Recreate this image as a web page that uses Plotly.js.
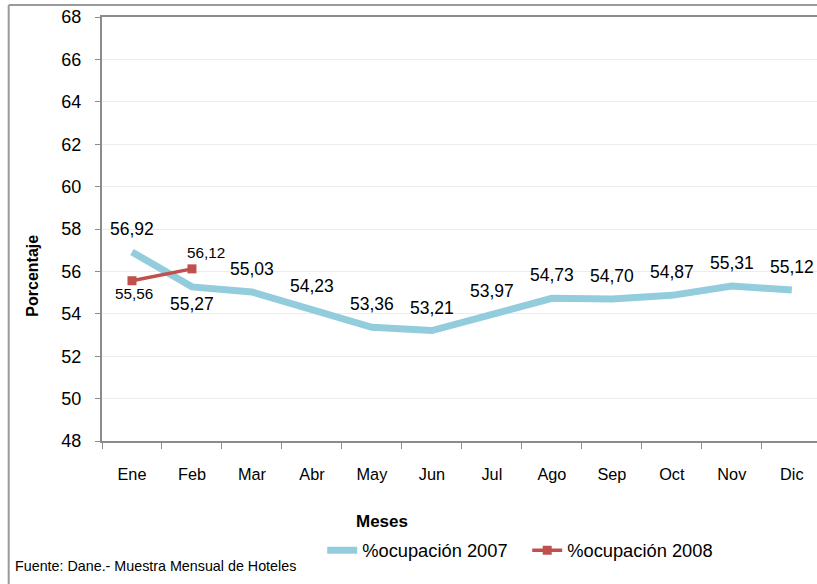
<!DOCTYPE html>
<html>
<head>
<meta charset="utf-8">
<script src="https://cdn.plot.ly/plotly-3.0.1.min.js"></script>
<style>
html,body{margin:0;padding:0;overflow:hidden;background:#fff;}
#chart{width:817px;height:584px;}
</style>
</head>
<body>
<div id="chart"></div>
<script>
const months = ["Ene","Feb","Mar","Abr","May","Jun","Jul","Ago","Sep","Oct","Nov","Dic"];
const occ2007 = [56.92,55.27,55.03,54.23,53.36,53.21,53.97,54.73,54.70,54.87,55.31,55.12];
const months2008 = ["Ene","Feb"];
const occ2008 = [55.56,56.12];
const yTicks = [48,50,52,54,56,58,60,62,64,66,68];

const fmt = v => v.toFixed(2).replace('.', ',');
const font = "Liberation Sans, Arial, sans-serif";

const traces = [
  {
    x: months, y: occ2007, type: 'scatter', mode: 'lines',
    name: '%ocupación 2007',
    line: {color: '#93CDDD', width: 7},
    hoverinfo: 'skip'
  },
  {
    x: months2008, y: occ2008, type: 'scatter', mode: 'lines+markers',
    name: '%ocupación 2008',
    line: {color: '#C0504D', width: 3.5},
    marker: {symbol: 'square', size: 9, color: '#C0504D'},
    hoverinfo: 'skip'
  }
];

const annotations = [];
occ2007.forEach((v, i) => {
  const below = (i === 1);
  annotations.push({
    x: months[i], y: v, xref: 'x', yref: 'y', text: fmt(v), showarrow: false,
    xanchor: 'center', yanchor: 'middle',
    font: {family: font, size: 17.5, color: '#000'},
    yshift: below ? -17 : 23
  });
});
annotations.push({
  x: months2008[0], y: occ2008[0], xref: 'x', yref: 'y', text: fmt(occ2008[0]), showarrow: false,
  xanchor: 'center', yanchor: 'middle',
  font: {family: font, size: 15.3, color: '#000'}, xshift: 2, yshift: -13
});
annotations.push({
  x: months2008[1], y: occ2008[1], xref: 'x', yref: 'y', text: fmt(occ2008[1]), showarrow: false,
  xanchor: 'center', yanchor: 'middle',
  font: {family: font, size: 15.3, color: '#000'}, xshift: 14, yshift: 16
});
annotations.push({
  xref: 'paper', yref: 'paper', x: -0.0985, y: 0.389, text: '<b>Porcentaje</b>', showarrow: false,
  xanchor: 'center', yanchor: 'middle',
  textangle: -90, font: {family: font, size: 16, color: '#000'}
});
annotations.push({
  xref: 'paper', yref: 'paper', x: 0.391, y: -0.191, text: '<b>Meses</b>', showarrow: false,
  xanchor: 'center', yanchor: 'middle',
  font: {family: font, size: 17, color: '#000'}
});
annotations.push({
  xref: 'paper', yref: 'paper', x: -0.125, y: -0.295, xanchor: 'left', yanchor: 'middle',
  text: 'Fuente: Dane.- Muestra Mensual de Hoteles', showarrow: false,
  font: {family: font, size: 14.3, color: '#000'}
});

const layout = {
  width: 817, height: 584,
  margin: {l: 102, r: 0, t: 17, b: 143, pad: 0},
  paper_bgcolor: '#fff', plot_bgcolor: '#fff',
  showlegend: true,
  legend: {
    orientation: 'h', x: 0.308, y: -0.258, xanchor: 'left', yanchor: 'middle',
    font: {family: font, size: 18.3, color: '#000'}, bgcolor: 'rgba(0,0,0,0)',
    itemwidth: 30, tracegroupgap: 0, entrywidth: 160, entrywidthmode: 'pixels'
  },
  xaxis: {
    type: 'category', categoryorder: 'array', categoryarray: months,
    range: [-0.5, 11.42], showgrid: false, zeroline: false,
    showline: true, linecolor: '#8c8c8c', linewidth: 2, mirror: true,
    ticks: 'outside', tickson: 'boundaries', ticklen: 6, tickcolor: '#8c8c8c', tickwidth: 1,
    ticklabelstandoff: 17,
    tickfont: {family: font, size: 16.3, color: '#000'}, fixedrange: true
  },
  yaxis: {
    range: [48, 68], tickvals: yTicks, ticktext: yTicks.map(String),
    showgrid: true, gridcolor: '#ececec', gridwidth: 1, zeroline: false,
    showline: true, linecolor: '#8c8c8c', linewidth: 2,
    ticks: 'outside', ticklen: 5, tickcolor: '#8c8c8c', tickwidth: 1,
    ticklabelstandoff: 10,
    tickfont: {family: font, size: 18, color: '#000'}, fixedrange: true
  },
  annotations: annotations,
  shapes: [
    {type: 'line', xref: 'paper', yref: 'paper', x0: -0.1305, x1: 1.05, y0: 1.0283, y1: 1.0283,
     line: {color: '#9a9a9a', width: 2}},
    {type: 'line', xref: 'paper', yref: 'paper', x0: -0.1305, x1: -0.1305, y0: 1.0283, y1: -0.5,
     line: {color: '#9a9a9a', width: 2}}
  ]
};

Plotly.newPlot('chart', traces, layout, {displayModeBar: false, staticPlot: true});
</script>
</body>
</html>
